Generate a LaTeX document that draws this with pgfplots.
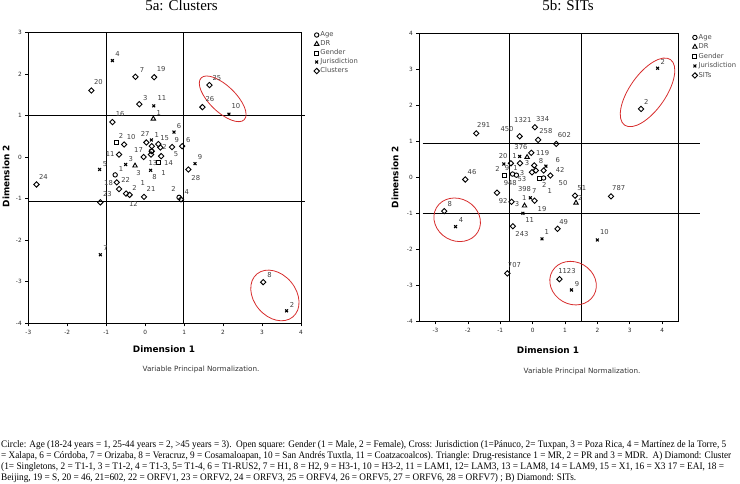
\documentclass[border=0pt]{standalone}
\usepackage{graphicx}
\usepackage{fontspec}
\setmainfont{Liberation Serif}
\newfontfamily\dv{DejaVu Sans}
\usepackage{pgfplots}
\pgfplotsset{compat=1.18}
\definecolor{ellred}{RGB}{215,45,45}
\pgfplotsset{
  agem/.style={only marks, mark=o, mark size=2.2pt, black, line width=0.9pt},
  drm/.style={only marks, mark=triangle, mark size=2.6pt, black, line width=0.9pt},
  genm/.style={only marks, mark=square, mark size=2pt, black, line width=0.9pt},
  jurm/.style={only marks, mark=x, mark size=2pt, black, line width=1.1pt},
  diam/.style={only marks, mark=square, mark size=1.9pt, black, line width=0.9pt, mark options={rotate=45}},
  lbls/.style={draw=none, mark=none, nodes near coords, point meta=explicit symbolic,
    nodes near coords style={anchor=center, inner sep=0pt, font=\dv\fontsize{6.8}{7}\selectfont, text=black!75}},
  mca/.style={scale only axis, clip=false,
    axis line style={line width=0.8pt},
    tick align=outside, major tick length=3pt, tick pos=left,
    tick style={line width=0.6pt, black},
    ticklabel style={font=\dv\fontsize{5.8}{6}\selectfont, text=black!85},
    /pgf/number format/assume math mode=true,
    legend cell align=left,
    legend image code/.code={\draw[mark repeat=2,mark phase=2,##1] plot coordinates {(0pt,0pt)(3pt,0pt)(6pt,0pt)};},
    legend style={draw=none, fill=none, inner sep=0pt, row sep=0.5pt,
      font=\dv\fontsize{6.8}{7}\selectfont, text=black!70,
      nodes={inner sep=1pt, text height=5pt, text depth=1.5pt}},
  },
}
\begin{document}
\begin{tikzpicture}[x=1pt,y=1pt]
\path[use as bounding box] (0,0) rectangle (740,483);
% ---------------- left panel
\begin{axis}[mca, at={(28.3pt,159.7pt)}, anchor=south west,
  width=272.7pt, height=291pt,
  xmin=-3, xmax=4, ymin=-4, ymax=3,
  xtick={-3,...,4}, ytick={-4,...,3},
  legend style={at={(1.047,1.006)}, anchor=north west}]
\addlegendimage{agem}\addlegendentry{Age}
\addlegendimage{drm}\addlegendentry{DR}
\addlegendimage{genm}\addlegendentry{Gender}
\addlegendimage{jurm}\addlegendentry{Jurisdiction}
\addlegendimage{diam}\addlegendentry{Clusters}
\addplot[black, line width=0.8pt, forget plot] coordinates {(-1,-4) (-1,3)};
\addplot[black, line width=0.8pt, forget plot] coordinates {(0.99,-4) (0.99,3)};
\addplot[black, line width=0.8pt, forget plot] coordinates {(-3,0.99) (4.1,0.99)};
\addplot[black, line width=0.8pt, forget plot] coordinates {(-3,-1.07) (4.1,-1.07)};
\addplot[agem, forget plot] table {
x y
-0.77 -0.43
0.87 -0.97
0.16 0.14
};
\addplot[drm, forget plot] table {
x y
0.21 0.92
-0.26 -0.21
};
\addplot[genm, forget plot] table {
x y
-0.73 0.36
0.34 -0.14
};
\addplot[jurm, forget plot] table {
x y
-0.84 2.32
0.22 1.23
2.15 1.03
0.74 0.60
0.16 0.41
-0.50 -0.18
-1.17 -0.30
0.14 -0.32
1.28 -0.16
-1.15 -2.35
3.63 -3.70
};
\addplot[diam, forget plot] table {
x y
-1.38 1.60
-0.25 1.93
0.23 1.92
-0.15 1.27
-0.84 0.84
1.65 1.73
1.47 1.20
-0.54 0.30
0.03 0.35
0.17 0.26
0.34 0.31
0.39 0.23
0.69 0.24
0.95 0.26
0.17 0.14
0.15 0.06
0.41 0.02
-0.04 0.00
-0.67 0.06
1.11 -0.30
-2.79 -0.66
-0.73 -0.61
-0.67 -0.77
-0.49 -0.88
-0.40 -0.91
-0.03 -0.96
-1.15 -1.09
0.92 -1.02
3.03 -3.01
};
\addplot[lbls, forget plot] table[meta=label] {
x y label
-0.71 2.47 4
-1.20 1.80 20
-0.08 2.10 7
0.41 2.12 19
0.00 1.43 3
0.43 1.41 11
0.35 1.06 1
-0.64 1.04 16
1.84 1.91 25
1.66 1.40 26
2.33 1.22 10
0.87 0.74 6
-0.62 0.50 2
-0.36 0.48 10
0.00 0.56 27
0.30 0.54 1
0.50 0.46 15
0.81 0.40 9
1.11 0.42 6
0.50 0.23 2
-0.17 0.18 17
0.79 0.06 5
1.41 0.01 9
-0.90 0.06 11
-0.37 -0.04 3
-1.03 -0.18 5
0.20 -0.14 13
0.60 -0.14 14
-0.62 -0.30 1
-0.17 -0.38 3
0.24 -0.48 8
0.47 -0.38 1
1.30 -0.50 28
-2.61 -0.48 24
-0.94 -0.63 18
-0.50 -0.56 22
-0.27 -0.75 2
-0.06 -0.63 1
0.15 -0.77 21
0.73 -0.78 2
1.07 -0.84 4
-0.97 -0.90 23
-0.30 -1.12 12
-1.02 -2.19 7
3.19 -2.83 8
3.77 -3.56 2
};
\draw[ellred, line width=0.8pt, rotate around={-44:(1.99,1.40)}] (1.99,1.40) ellipse [x radius=30pt, y radius=13pt];
\draw[ellred, line width=0.8pt, rotate around={-50:(3.33,-3.33)}] (3.33,-3.33) ellipse [x radius=28pt, y radius=21pt];
\end{axis}
% ---------------- right panel
\begin{axis}[mca, at={(419.3pt,161.7pt)}, anchor=south west,
  width=259pt, height=288pt,
  xmin=-3.5, xmax=4.5, ymin=-4, ymax=4,
  xtick={-3,...,4}, ytick={-4,...,4},
  legend style={at={(1.053,1.001)}, anchor=north west, row sep=1pt}]
\addlegendimage{agem}\addlegendentry{Age}
\addlegendimage{drm}\addlegendentry{DR}
\addlegendimage{genm}\addlegendentry{Gender}
\addlegendimage{jurm}\addlegendentry{Jurisdiction}
\addlegendimage{diam}\addlegendentry{SITs}
\addplot[black, line width=0.8pt, forget plot] coordinates {(-0.72,-4) (-0.72,4)};
\addplot[black, line width=0.8pt, forget plot] coordinates {(1.5,-4) (1.5,4)};
\addplot[black, line width=0.8pt, forget plot] coordinates {(-3.4,0.94) (5.17,0.94)};
\addplot[black, line width=0.8pt, forget plot] coordinates {(-3.4,-1.0) (5.17,-1.0)};
\addplot[agem, forget plot] table {
x y
-0.62 0.09
-0.50 0.06
0.34 -0.02
};
\addplot[drm, forget plot] table {
x y
-0.17 0.56
-0.25 -0.79
1.34 -0.71
};
\addplot[genm, forget plot] table {
x y
-0.88 0.05
0.22 -0.02
};
\addplot[jurm, forget plot] table {
x y
3.86 3.03
-0.40 0.58
-0.89 0.37
0.41 0.31
-2.38 -1.37
2.00 -1.74
1.20 -3.13
0.29 -1.71
-0.30 -1.00
-0.07 -0.57
};
\addplot[diam, forget plot] table {
x y
3.35 1.90
-1.74 1.22
-0.40 1.14
0.07 1.39
0.17 1.04
0.73 0.93
-0.04 0.68
-0.67 0.39
-0.39 0.39
0.05 0.33
-0.02 0.14
0.10 0.19
0.34 0.19
0.55 0.05
-2.08 -0.06
-2.73 -0.94
2.42 -0.53
-0.78 -2.67
0.83 -2.83
-1.10 -0.43
-0.65 -0.68
0.06 -0.65
-0.61 -1.36
0.77 -1.43
1.31 -0.51
};
\addplot[lbls, forget plot] table[meta=label] {
x y label
4.02 3.21 2
3.51 2.08 2
-1.51 1.46 291
-0.79 1.34 450
-0.30 1.60 1321
0.31 1.62 334
0.41 1.28 258
0.98 1.17 602
-0.36 0.85 376
0.31 0.68 119
-0.91 0.60 20
-0.56 0.60 1
-0.17 0.39 3
0.26 0.44 8
0.78 0.48 6
-1.08 0.23 2
-0.79 0.25 9
-0.53 0.25 1
-0.33 0.11 3
0.85 0.19 42
-0.33 -0.05 53
-0.69 -0.17 948
-0.25 -0.32 398
0.05 -0.37 7
0.36 -0.21 2
0.53 -0.37 1
0.94 -0.17 50
1.52 -0.30 51
1.47 -0.57 2
2.66 -0.30 787
-1.87 0.14 46
-0.91 -0.67 92
-0.48 -0.74 3
-0.26 -0.57 1
0.29 -0.88 19
-2.56 -0.74 8
-2.21 -1.20 4
-0.09 -1.20 11
0.96 -1.23 49
-0.33 -1.57 243
0.44 -1.53 1
2.22 -1.53 10
-0.56 -2.43 707
1.06 -2.59 1123
1.37 -2.96 9
};
\draw[ellred, line width=0.8pt, rotate around={55:(3.55,2.36)}] (3.55,2.36) ellipse [x radius=40pt, y radius=18pt];
\draw[ellred, line width=0.8pt, rotate around={-30:(-2.33,-1.18)}] (-2.33,-1.18) ellipse [x radius=24pt, y radius=21pt];
\draw[ellred, line width=0.8pt, rotate around={-30:(1.25,-2.94)}] (1.25,-2.94) ellipse [x radius=24pt, y radius=21pt];
\end{axis}
% ---------------- texts
\node[anchor=base, font=\fontsize{15}{15}\selectfont] at (181.5,472) {5a: Clusters};
\node[anchor=base, font=\fontsize{15}{15}\selectfont] at (568,472) {5b: SITs};
\node[anchor=base, font=\dv\bfseries\fontsize{8.9}{10}\selectfont] at (164,131) {Dimension 1};
\node[anchor=base, font=\dv\bfseries\fontsize{8.9}{10}\selectfont] at (548,130) {Dimension 1};
\node[rotate=90, font=\dv\bfseries\fontsize{8.9}{10}\selectfont] at (6,307) {Dimension 2};
\node[rotate=90, font=\dv\bfseries\fontsize{8.9}{10}\selectfont] at (395,306) {Dimension 2};
\node[anchor=base, font=\dv\fontsize{7.2}{8}\selectfont, text=black!80] at (201,111.5) {Variable Principal Normalization.};
\node[anchor=base, font=\dv\fontsize{7.2}{8}\selectfont, text=black!80] at (582,110) {Variable Principal Normalization.};
\node[anchor=base west, inner sep=0pt] at (1,36) {\resizebox{725pt}{\height}{\fontsize{10}{12}\selectfont Circle: Age (18-24 years = 1, 25-44 years = 2, >45 years = 3).\ \ Open square: Gender (1 = Male, 2 = Female), Cross: Jurisdiction (1=Pánuco, 2= Tuxpan, 3 = Poza Rica, 4 = Martínez de la Torre, 5}};
\node[anchor=base west, inner sep=0pt] at (1,25) {\resizebox{730pt}{\height}{\fontsize{10}{12}\selectfont = Xalapa, 6 = Córdoba, 7 = Orizaba, 8 = Veracruz, 9 = Cosamaloapan, 10 = San Andrés Tuxtla, 11 = Coatzacoalcos). Triangle: Drug-resistance 1 = MR, 2 = PR and 3 = MDR.\ \ A) Diamond: Cluster}};
\node[anchor=base west, inner sep=0pt] at (1,14) {\resizebox{723pt}{\height}{\fontsize{10}{12}\selectfont (1= Singletons, 2 = T1-1, 3 = T1-2, 4 = T1-3, 5= T1-4, 6 = T1-RUS2, 7 = H1, 8 = H2, 9 = H3-1, 10 = H3-2, 11 = LAM1, 12= LAM3, 13 = LAM8, 14 = LAM9, 15 = X1, 16 = X3 17 = EAI, 18 =}};
\node[anchor=base west, inner sep=0pt] at (1,3) {\resizebox{575pt}{\height}{\fontsize{10}{12}\selectfont Beijing, 19 = S, 20 = 46, 21=602, 22 = ORFV1, 23 = ORFV2, 24 = ORFV3, 25 = ORFV4, 26 = ORFV5, 27 = ORFV6, 28 = ORFV7) ; B) Diamond: SITs.}};
\end{tikzpicture}
\end{document}
